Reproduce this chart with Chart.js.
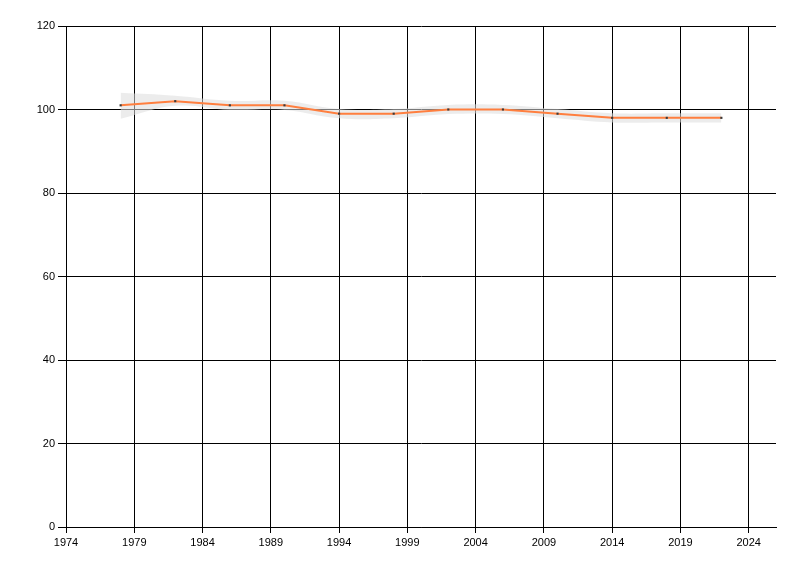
<!DOCTYPE html>
<html lang="en">
<head>
    <meta charset="UTF-8">
    <title>Trend chart</title>
    <script src="https://cdn.jsdelivr.net/npm/chart.js"></script>
    <style>
        body { margin: 0; background: #fff; }
        canvas { display: block; }
    </style>
</head>
<body>
    <canvas id="chart" width="800" height="576"></canvas>

    <script>
        // data
        var years = [1978, 1982, 1986, 1990, 1994, 1998, 2002, 2006, 2010, 2014, 2018, 2022];
        var values = [101, 102, 101, 101, 99, 99, 100, 100, 99, 98, 98, 98];
        var bandHigh = [104, 103.3, 102.1, 102.1, 100.1, 100.1, 101.1, 101.1, 100.1, 99.1, 99.1, 99.1];
        var bandLow = [97.8, 100.9, 99.9, 99.9, 97.9, 97.9, 98.9, 98.9, 97.9, 96.9, 96.9, 96.9];
        var xTicks = [1974, 1979, 1984, 1989, 1994, 1999, 2004, 2009, 2014, 2019, 2024];
        var yTicks = [0, 20, 40, 60, 80, 100, 120];

        function pts(arr) {
            return years.map(function (y, i) { return { x: y, y: arr[i] }; });
        }

        var tickFont = { family: 'Liberation Sans', size: 11 };

        var ctx = document.getElementById('chart').getContext('2d');
        var myChart = new Chart(ctx, {
            type: 'line',
            data: {
                datasets: [{
                    label: 'value',
                    data: pts(values),
                    borderColor: '#ff7f3f',
                    borderWidth: 2,
                    tension: 0,
                    fill: false,
                    pointRadius: 1.5,
                    pointStyle: 'rect',
                    pointBackgroundColor: '#3a3a3a',
                    pointBorderWidth: 0,
                    order: 0
                }, {
                    label: 'high',
                    data: pts(bandHigh),
                    borderColor: 'rgba(0,0,0,0)',
                    borderWidth: 0,
                    backgroundColor: 'rgba(220,220,220,0.55)',
                    tension: 0.4,
                    pointRadius: 0,
                    fill: '+1',
                    order: 1
                }, {
                    label: 'low',
                    data: pts(bandLow),
                    borderColor: 'rgba(0,0,0,0)',
                    borderWidth: 0,
                    tension: 0.4,
                    pointRadius: 0,
                    fill: false,
                    order: 2
                }]
            },
            options: {
                responsive: false,
                animation: false,
                layout: { padding: { top: 26, right: 24, left: 0, bottom: 0 } },
                plugins: {
                    legend: { display: false },
                    tooltip: { enabled: false }
                },
                scales: {
                    x: {
                        type: 'linear',
                        min: 1974,
                        max: 2026,
                        afterBuildTicks: function (axis) {
                            axis.ticks = xTicks.map(function (v) { return { value: v }; });
                        },
                        afterFit: function (axis) { axis.height = 49; },
                        grid: { color: '#000', lineWidth: 1, tickLength: 6 },
                        border: { color: '#000', width: 1 },
                        ticks: {
                            color: '#000', font: tickFont, padding: 3, maxRotation: 0,
                            callback: function (v) { return String(v); }
                        }
                    },
                    y: {
                        min: 0,
                        max: 120,
                        afterBuildTicks: function (axis) {
                            axis.ticks = yTicks.map(function (v) { return { value: v }; });
                        },
                        afterFit: function (axis) { axis.width = 66; },
                        grid: { color: '#000', lineWidth: 1, tickLength: 8 },
                        border: { color: '#000', width: 1 },
                        ticks: { color: '#000', font: tickFont, padding: 3 }
                    }
                }
            }
        });
    </script>
</body>
</html>
